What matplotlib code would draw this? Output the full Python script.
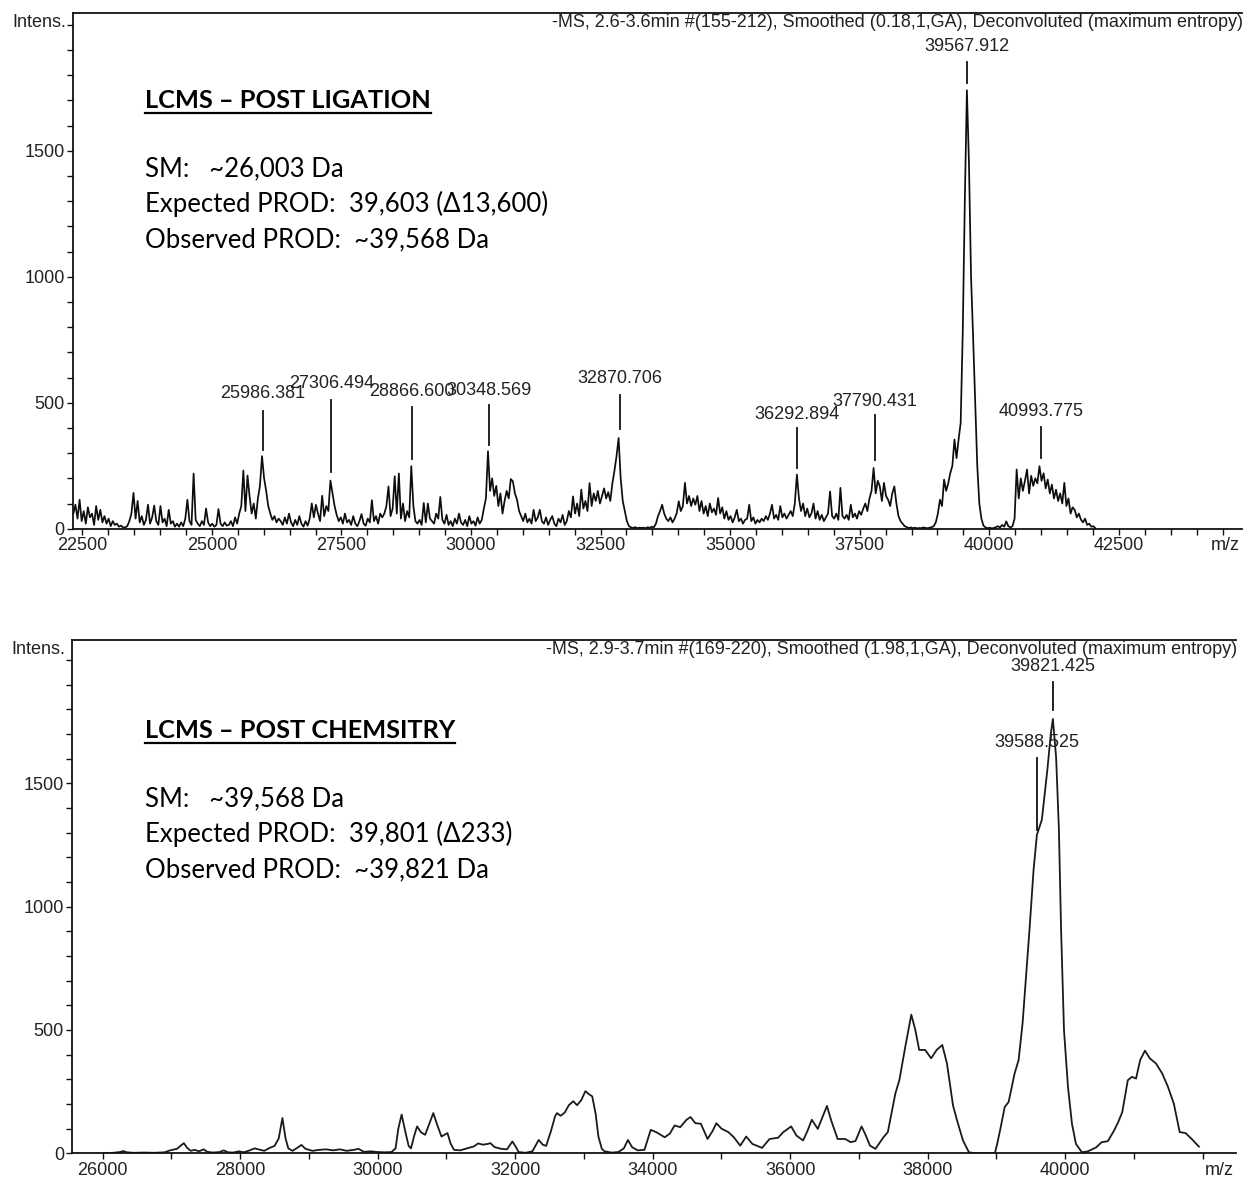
import numpy as np
import matplotlib
matplotlib.use("Agg")
import matplotlib.pyplot as plt
from matplotlib.lines import Line2D
from matplotlib.ticker import FixedLocator
from matplotlib.transforms import IdentityTransform

# ---------------- data: LCMS post ligation (top panel) ----------------
lig_mz_start = 22328.0
lig_mz_step = 40.0
lig_intensity = [
    60, 95, 40, 115, 30, 70, 20, 85, 45, 60, 15, 90, 35, 75, 25, 50, 20, 40, 10, 30, 15, 20, 8, 12, 5,
    5, 10, 30, 60, 142, 40, 110, 25, 50, 15, 35, 95, 20, 45, 92, 30, 15, 90, 25, 40, 10, 75, 20, 30, 8,
    20, 8, 25, 10, 40, 115, 30, 15, 219, 35, 20, 10, 30, 15, 80, 25, 10, 20, 8, 15, 78, 20, 10, 25, 12,
    15, 30, 10, 45, 20, 60, 90, 231, 70, 211, 128, 60, 100, 40, 120, 170, 288, 200, 150, 90, 60, 35, 50, 25, 40,
    30, 15, 45, 20, 60, 25, 10, 35, 15, 50, 20, 8, 30, 12, 40, 100, 45, 95, 60, 30, 131, 50, 90, 70, 191,
    140, 90, 55, 30, 45, 20, 60, 25, 35, 15, 50, 20, 10, 30, 58, 20, 12, 40, 25, 113, 30, 50, 20, 60, 45,
    60, 90, 168, 50, 80, 208, 60, 219, 40, 100, 30, 70, 45, 248, 90, 30, 20, 35, 15, 102, 25, 100, 40, 30, 20,
    60, 40, 126, 35, 20, 55, 15, 30, 10, 40, 20, 60, 25, 15, 35, 10, 50, 20, 30, 12, 45, 20, 35, 80, 120,
    307, 150, 200, 130, 170, 90, 140, 60, 110, 150, 120, 197, 188, 140, 115, 70, 50, 30, 60, 25, 40, 20, 75, 30, 45,
    75, 30, 20, 45, 15, 35, 50, 20, 10, 40, 25, 55, 15, 30, 70, 45, 128, 60, 100, 50, 155, 80, 110, 70, 181,
    90, 140, 110, 150, 100, 130, 160, 120, 145, 110, 180, 230, 288, 360, 200, 110, 69, 30, 10, 5, 3, 6, 2, 4, 3,
    4, 2, 6, 3, 8, 5, 20, 50, 70, 95, 60, 40, 30, 45, 25, 40, 60, 109, 70, 90, 182, 100, 130, 90, 120,
    95, 130, 70, 110, 60, 90, 50, 100, 65, 80, 55, 122, 60, 85, 40, 70, 35, 50, 25, 45, 75, 30, 40, 20, 35,
    40, 95, 30, 45, 20, 35, 25, 40, 30, 50, 35, 60, 95, 40, 55, 35, 90, 45, 60, 40, 55, 70, 50, 100, 215,
    120, 70, 100, 50, 80, 45, 60, 100, 40, 70, 35, 55, 30, 45, 60, 148, 50, 40, 60, 35, 162, 50, 40, 55, 35,
    95, 45, 60, 40, 70, 55, 80, 100, 70, 120, 150, 241, 140, 190, 168, 110, 182, 130, 115, 90, 140, 168, 100, 50, 30,
    20, 10, 6, 3, 5, 2, 4, 1, 3, 2, 5, 3, 2, 4, 6, 10, 25, 60, 115, 90, 195, 150, 180, 221, 250,
    354, 280, 354, 420, 780, 1300, 1740, 1450, 1000, 760, 500, 250, 100, 40, 12, 5, 2, 4, 1, 3, 6, 10, 5, 15, 8,
    29, 10, 5, 10, 40, 235, 120, 200, 150, 190, 235, 140, 210, 170, 200, 180, 248, 190, 220, 160, 195, 140, 175, 120, 155,
    110, 140, 100, 182, 90, 120, 60, 85, 75, 45, 60, 36, 25, 40, 15, 20, 8, 10, 2,
]
lig_peak_mz = [25986.381, 27306.494, 28866.600, 30348.569, 32870.706,
               36292.894, 37790.431, 39567.912, 40993.775]
lig_header = "-MS, 2.6-3.6min #(155-212), Smoothed (0.18,1,GA), Deconvoluted (maximum entropy)"
lig_title = "LCMS \u2013 POST LIGATION"
lig_notes = ["SM:   ~26,003 Da", "Expected PROD:  39,603 (\u039413,600)", "Observed PROD:  ~39,568 Da"]
lig_xticks = [22500, 25000, 27500, 30000, 32500, 35000, 37500, 40000, 42500]
lig_yticks = [0, 500, 1000, 1500]

# ---------------- data: LCMS post chemistry (bottom panel) ----------------
chem_mz = [
    26000, 26150, 26250, 26300, 26350, 26450, 26600, 26750, 26900, 26980,
    27080, 27130, 27180, 27230, 27280, 27340, 27400, 27470, 27520, 27600,
    27700, 27760, 27820, 27900, 27980, 28050, 28120, 28210, 28280, 28350,
    28430, 28500, 28560, 28614, 28660, 28700, 28760, 28830, 28891, 28950,
    29050, 29150, 29250, 29350, 29450, 29550, 29650, 29720, 29800, 29900,
    30000, 30100, 30200, 30260, 30300, 30348, 30400, 30450, 30484, 30530,
    30573, 30630, 30690, 30750, 30809, 30860, 30927, 30970, 31015, 31060,
    31110, 31200, 31300, 31400, 31460, 31530, 31600, 31640, 31700, 31800,
    31880, 31959, 32000, 32050, 32150, 32250, 32342, 32400, 32450, 32520,
    32580, 32608, 32660, 32720, 32780, 32844, 32900, 32960, 33021, 33070,
    33120, 33170, 33210, 33260, 33300, 33400, 33500, 33580, 33640, 33700,
    33780, 33880, 33971, 34050, 34174, 34250, 34318, 34400, 34492, 34550,
    34620, 34700, 34798, 34870, 34926, 35000, 35100, 35180, 35273, 35360,
    35450, 35591, 35700, 35823, 35900, 36014, 36090, 36187, 36250, 36314,
    36401, 36460, 36534, 36600, 36690, 36800, 36880, 36950, 37038, 37100,
    37160, 37240, 37356, 37420, 37529, 37587, 37674, 37761, 37820, 37876,
    37963, 38050, 38130, 38212, 38280, 38368, 38420, 38513, 38600, 38700,
    38800, 38976, 39005, 39062, 39120, 39177, 39264, 39322, 39380, 39480,
    39540, 39588, 39660, 39740, 39790, 39821, 39868, 39908, 39940, 39982,
    40040, 40098, 40156, 40243, 40330, 40450, 40530, 40620, 40710, 40770,
    40830, 40910, 40970, 41030, 41090, 41160, 41230, 41320, 41410, 41495,
    41580, 41665, 41750, 41840, 41945,
]
chem_intensity = [
    0, 2, 5, 9, 4, 2, 3, 2, 4, 12,
    18, 30, 41, 22, 10, 14, 8, 16, 6, 3,
    5, 12, 4, 3, 8, 4, 10, 20, 15, 10,
    22, 30, 60, 143, 60, 20, 10, 22, 34, 18,
    10, 14, 16, 12, 16, 10, 14, 18, 6, 8,
    5, 4, 5, 20, 100, 157, 90, 30, 20, 70,
    109, 85, 75, 120, 163, 120, 68, 75, 82, 40,
    14, 12, 20, 28, 40, 35, 38, 41, 25, 18,
    16, 48, 30, 5, 2, 8, 54, 35, 30, 90,
    150, 163, 152, 165, 195, 211, 195, 215, 252, 240,
    231, 160, 68, 18, 8, 3, 5, 20, 54, 25,
    12, 14, 95, 86, 65, 80, 113, 106, 136, 147,
    122, 120, 58, 90, 122, 100, 86, 65, 31, 68,
    38, 22, 58, 63, 86, 109, 72, 52, 90, 136,
    99, 140, 192, 130, 58, 58, 45, 50, 109, 72,
    31, 18, 65, 86, 242, 296, 432, 562, 500, 419,
    419, 385, 419, 439, 364, 194, 140, 52, 4, 0,
    0, 0, 31, 106, 188, 208, 324, 378, 528, 905,
    1150, 1291, 1352, 1554, 1700, 1761, 1603, 1314, 905, 500,
    269, 120, 38, 4, 8, 24, 45, 49, 92, 126,
    167, 296, 310, 303, 378, 416, 385, 364, 324, 269,
    201, 86, 82, 58, 27,
]
chem_peak_mz = [39588.525, 39821.425]
chem_header = "-MS, 2.9-3.7min #(169-220), Smoothed (1.98,1,GA), Deconvoluted (maximum entropy)"
chem_title = "LCMS \u2013 POST CHEMSITRY"
chem_notes = ["SM:   ~39,568 Da", "Expected PROD:  39,801 (\u0394233)", "Observed PROD:  ~39,821 Da"]
chem_xticks = [26000, 28000, 30000, 32000, 34000, 36000, 38000, 40000]
chem_yticks = [0, 500, 1000, 1500]

# ---------------- layout (positions of peak-label ticks and texts) ----------------
lig_label_tick = [(314, 467), (224, 510), (277, 484), (334, 491), (394, 529),
                  (241, 400), (272, 450), (1767, 1853), (281, 404)]
lig_label_text = [537, 577, 546, 550, 595, 453, 506, 1913, 467]
chem_label_tick = [(1310, 1603), (1798, 1912)]
chem_label_text = [1664, 1972]

W, H = 1246, 1178
fig = plt.figure(figsize=(W / 100, H / 100), dpi=100)
AX_FONT = ["Liberation Sans", "DejaVu Sans"]
NOTE_FONT = ["Lato", "DejaVu Sans"]
plt.rcParams["font.family"] = AX_FONT


def px_axes(left, top, right, bottom):
    return fig.add_axes([left / W, 1 - bottom / H, (right - left) / W, (bottom - top) / H])


def style_axes(ax, xlim, ylim, xticks, xminor, yticks):
    ax.set_xlim(*xlim)
    ax.set_ylim(*ylim)
    ax.spines["right"].set_visible(False)
    for s in ("left", "bottom", "top"):
        ax.spines[s].set_linewidth(1.3)
        ax.spines[s].set_color("#111111")
    ax.xaxis.set_major_locator(FixedLocator(xticks))
    ax.xaxis.set_minor_locator(FixedLocator(xminor))
    ax.yaxis.set_major_locator(FixedLocator(yticks))
    ax.yaxis.set_minor_locator(FixedLocator(list(range(0, 2001, 100))))
    ax.set_xticklabels([str(t) for t in xticks])
    ax.set_yticklabels([str(t) for t in yticks])
    ax.tick_params(axis="both", which="both", direction="out", length=4, width=1.0,
                   color="#111111", labelsize=13, labelcolor="#222222", pad=2)
    ax.tick_params(axis="x", which="both", top=False)
    ax.annotate("m/z", xy=(1, 0), xycoords="axes fraction", xytext=(-2, -17),
                textcoords="offset pixels", ha="right", va="center", fontsize=13, color="#222222")
    ax.annotate("Intens.", xy=(0, 1), xycoords="axes fraction", xytext=(-7, -10),
                textcoords="offset pixels", ha="right", va="center", fontsize=13, color="#222222")


def peak_labels(ax, mzs, ticks, texts):
    for mz, (lo, hi), ty in zip(mzs, ticks, texts):
        ax.plot([mz, mz], [lo, hi], color="#111111", lw=1.3)
        ax.text(mz, ty, f"{mz:.3f}", ha="center", va="center", fontsize=13, color="#222222")


def header(ax, txt):
    ax.annotate(txt, xy=(1, 1), xycoords="axes fraction", xytext=(1, -10),
                textcoords="offset pixels", ha="right", va="center", fontsize=13, color="#222222")


# ---------------- top panel ----------------
ax1 = px_axes(73, 12.7, 1242, 528.7)
lig_mz = lig_mz_start + lig_mz_step * np.arange(len(lig_intensity))
ax1.plot(lig_mz, lig_intensity, color="#0d0d0d", lw=1.25)
style_axes(ax1, (22321, 44876), (0, 2048), lig_xticks,
           list(range(22500, 44600, 500)), lig_yticks)
peak_labels(ax1, lig_peak_mz, lig_label_tick, lig_label_text)
header(ax1, lig_header)

# ---------------- bottom panel ----------------
ax2 = px_axes(72.3, 640, 1236, 1153.3)
ax2.plot(chem_mz, chem_intensity, color="#1a1a1a", lw=1.3)
style_axes(ax2, (25558, 42484), (0, 2081), chem_xticks,
           list(range(26000, 42001, 1000)), chem_yticks)
peak_labels(ax2, chem_peak_mz, chem_label_tick, chem_label_text)
header(ax2, chem_header)

# ---------------- annotation blocks ----------------
titles = []
for title, notes, base in ((lig_title, lig_notes, 0), (chem_title, chem_notes, 630)):
    t = fig.text(145 / W, 1 - (108 + base) / H, title, family=NOTE_FONT, fontsize=18.3,
                 fontweight="bold", ha="left", va="baseline", color="black")
    titles.append(t)
    for note, yb in zip(notes, (176, 212, 247)):
        fig.text(145 / W, 1 - (yb + base) / H, note, family=NOTE_FONT, fontsize=18.5,
                 ha="left", va="baseline", color="black")

fig.canvas.draw()
renderer = fig.canvas.get_renderer()
for t in titles:
    bb = t.get_window_extent(renderer)
    x0, x1 = bb.x0, bb.x1
    _, ybase = t.get_transform().transform(t.get_position())
    yl = ybase - 5
    fig.add_artist(Line2D([x0, x1], [yl, yl], transform=IdentityTransform(),
                          color="black", lw=1.6))

fig.savefig("out.png", dpi=100)
